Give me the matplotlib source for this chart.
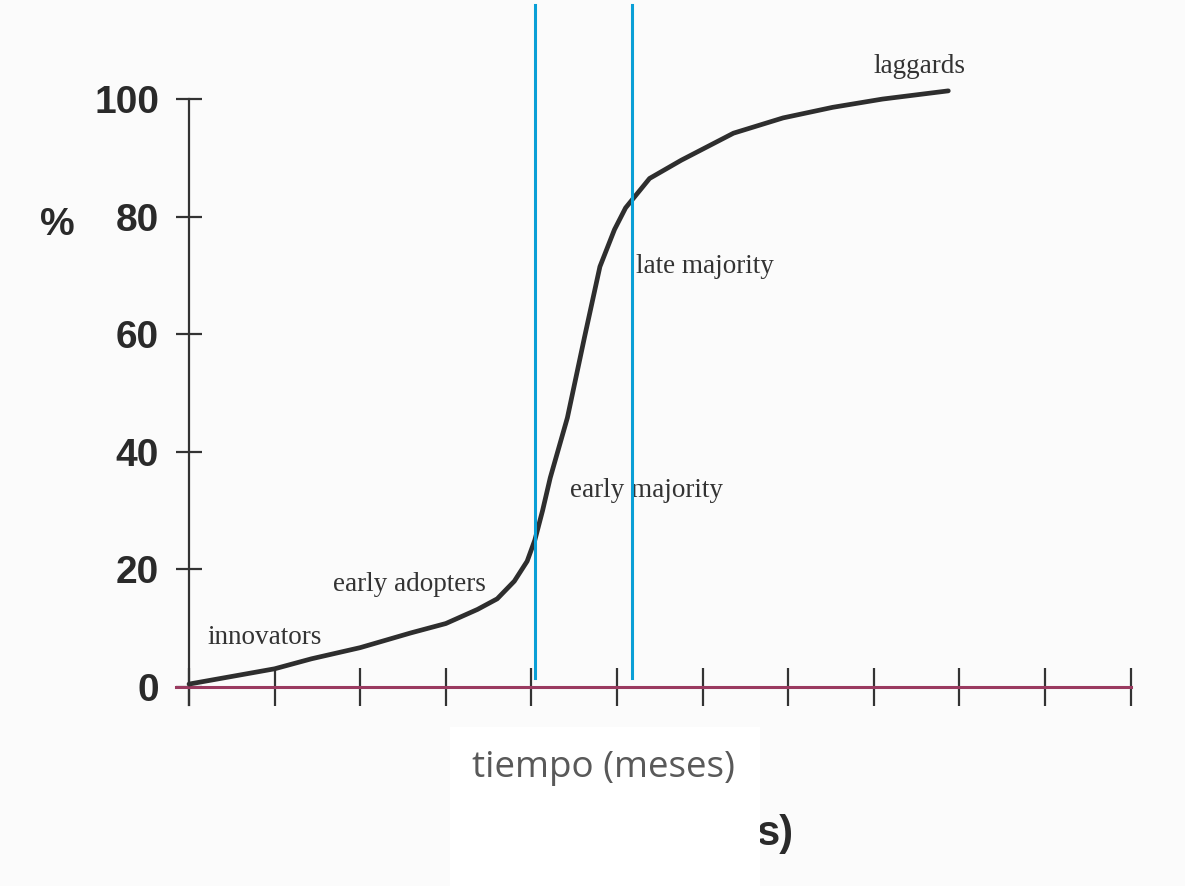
import matplotlib
matplotlib.use("Agg")
import matplotlib.pyplot as plt
from matplotlib.patches import Rectangle
from matplotlib import font_manager

# Data
months = [0, 0.5, 1.0, 1.43, 2.0, 2.59, 3.0, 3.37, 3.6, 3.8, 3.95, 4.04, 4.13, 4.22,
          4.42, 4.62, 4.80, 4.97, 5.1, 5.38, 5.75, 6.36, 6.94, 7.52, 8.1, 8.87]
adoption = [0.5, 1.8, 3.1, 4.8, 6.7, 9.2, 10.8, 13.2, 15.0, 18.0, 21.4, 25.0, 30.0, 35.6,
            45.8, 59.5, 71.5, 77.8, 81.5, 86.5, 89.6, 94.2, 96.8, 98.6, 100.0, 101.4]
y_ticks = [0, 20, 40, 60, 80, 100]
x_ticks = list(range(0, 12))
divider_months = [4.04, 5.17]
stage_names = ["innovators", "early adopters", "early majority", "late majority", "laggards"]
stage_pos = [(0.22, 8.5), (1.68, 17.5), (4.45, 33.5), (5.22, 71.5), (8.0, 105.5)]

names = {f.name for f in font_manager.fontManager.ttflist}
narrow = "Liberation Sans Narrow" in names
tick_font = "Liberation Sans Narrow" if narrow else "Liberation Sans"

fig = plt.figure(figsize=(11.85, 8.86), dpi=100)
fig.patch.set_facecolor("#fbfbfb")
ax = fig.add_axes([0.1234, 0.1914, 0.8524, 0.80294])
ax.set_facecolor("none")
ax.set_xlim(-0.5, 11.3)
ax.set_ylim(-5, 116)

for s in ["top", "right"]:
    ax.spines[s].set_visible(False)
ax.spines["left"].set_bounds(-3, 100)
ax.spines["bottom"].set_bounds(-0.15, 11)
ax.spines["left"].set_position(("data", 0))
ax.spines["bottom"].set_position(("data", 0))
ax.spines["left"].set_linewidth(1.6)
ax.spines["left"].set_color("#333333")
ax.spines["bottom"].set_linewidth(2.2)
ax.spines["bottom"].set_color("#9a3a60")

ax.set_yticks(y_ticks)
ax.set_yticklabels([str(v) for v in y_ticks])
ax.set_xticks(x_ticks)
ax.set_xticklabels([])
ax.tick_params(axis="y", direction="inout", length=19, width=1.6, color="#333333",
               pad=12, labelsize=34 if narrow else 28, labelcolor="#2a2a2a")
ax.tick_params(axis="x", direction="inout", length=28, width=1.6, color="#333333")
for lab in ax.get_yticklabels():
    lab.set_fontweight("bold")
    lab.set_family(tick_font)

# S-curve
ax.plot(months, adoption, color="#2e2e2e", linewidth=3.4, solid_capstyle="round",
        solid_joinstyle="round", clip_on=False, zorder=3)

# Blue dividers
for m in divider_months:
    ax.plot([m, m], [1.5, 116], color="#0a9fd6", linewidth=2.2, clip_on=False, zorder=4)

# Stage labels
for name, (x, y) in zip(stage_names, stage_pos):
    ax.text(x, y, name, family="Liberation Serif", fontsize=19.5, color="#333333",
            ha="left", va="center")

# % label
fig.text(57 / 1185, 1 - 225 / 886, "%", fontsize=34 if narrow else 28, fontweight="bold",
         family=tick_font, color="#2a2a2a", ha="center", va="center")

# white box with axis title
fig.patches.append(Rectangle((450 / 1185, 0), 310 / 1185, 159 / 886,
                             transform=fig.transFigure, facecolor="white",
                             edgecolor="none", zorder=5))
fig.text(603.5 / 1185, 1 - 777 / 886, "tiempo (meses)", fontsize=26.5, family="Open Sans",
         color="#595959", ha="center", va="baseline", zorder=6)
fig.text(757 / 1185, 1 - 845 / 886, "s)", fontsize=35 if narrow else 30, fontweight="bold",
         family=tick_font, color="#2a2a2a", ha="left", va="baseline")

fig.savefig("out.png", dpi=100, facecolor=fig.get_facecolor())
